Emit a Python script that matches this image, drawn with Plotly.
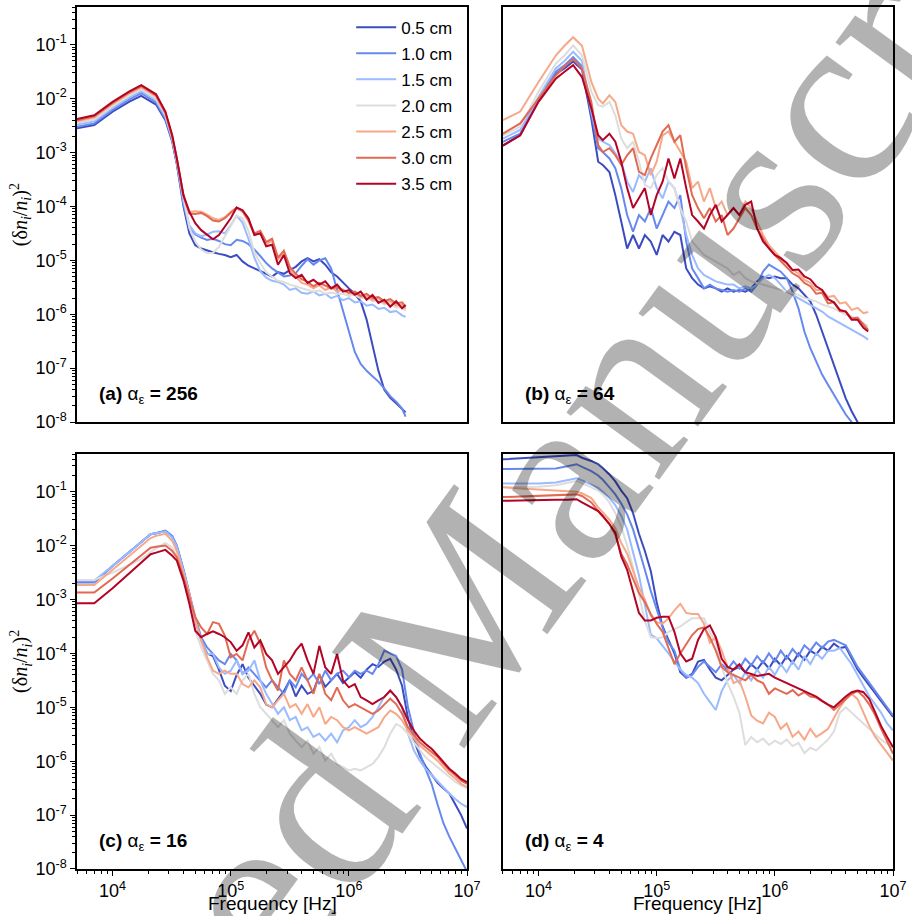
import numpy as np
import plotly.graph_objects as go

# ---------------- data ----------------
labels = ["0.5 cm", "1.0 cm", "1.5 cm", "2.0 cm", "2.5 cm", "3.0 cm", "3.5 cm"]
colors = ["#3b4cc0", "#6788ee", "#9abbff", "#dddddd", "#f7a889", "#e26952", "#b40426"]

# log10 of frequency [Hz]
logf_mid = [4.60, 4.65, 4.70, 4.75, 4.80, 4.85, 4.90, 4.95, 5.00, 5.05,
            5.10, 5.15, 5.20, 5.25, 5.30, 5.35, 5.40, 5.45, 5.50, 5.55,
            5.60, 5.65, 5.70, 5.75, 5.80, 5.85, 5.90, 5.95, 6.00, 6.05,
            6.10, 6.15, 6.20, 6.25, 6.30, 6.35, 6.40, 6.45]
logf_a = [3.699, 3.845, 4.000, 4.146, 4.243, 4.322, 4.368, 4.447, 4.505, 4.544] + logf_mid + [6.48]
logf_b = [3.699, 3.845, 4.000, 4.146, 4.220, 4.293, 4.368, 4.447, 4.505, 4.544] + logf_mid + \
         [6.50, 6.55, 6.60, 6.65, 6.70, 6.75, 6.79]
logf_cd = [3.699, 3.845, 4.000, 4.146, 4.243, 4.322, 4.368, 4.447, 4.505, 4.544] + logf_mid + \
          [6.50, 6.55, 6.60, 6.65, 6.70, 6.75, 6.80, 6.85, 6.90, 6.95, 7.00]

# log10 of (dn_i/n_i)^2 -- panel (a) alpha = 256
a05 = [-2.55, -2.49, -2.24, -2.05, -1.95, -2.05, -2.11, -2.40, -2.80, -3.22,
       -4.00, -4.50, -4.72, -4.78, -4.82, -4.85, -4.88, -4.90, -4.94, -4.90,
       -5.02, -5.10, -5.15, -5.20, -5.26, -5.30, -5.22, -5.25, -5.18, -5.12,
       -5.02, -4.96, -5.02, -4.98, -5.08, -5.22, -5.30, -5.42, -5.52, -5.62,
       -5.76, -6.10, -6.55, -7.05, -7.40, -7.55, -7.65, -7.75, -7.82]
a10 = [-2.52, -2.46, -2.21, -2.01, -1.90, -2.01, -2.07, -2.37, -2.78, -3.20,
       -3.95, -4.40, -4.52, -4.58, -4.62, -4.60, -4.64, -4.70, -4.72, -4.62,
       -4.64, -4.70, -4.80, -4.92, -5.05, -5.15, -5.22, -5.30, -5.28, -5.24,
       -5.10, -4.98, -5.08, -5.00, -4.96, -5.15, -5.55, -5.95, -6.35, -6.70,
       -6.92, -7.05, -7.15, -7.25, -7.38, -7.52, -7.62, -7.75, -7.90]
a15 = [-2.48, -2.42, -2.17, -1.97, -1.86, -1.97, -2.03, -2.33, -2.75, -3.17,
       -3.90, -4.35, -4.50, -4.55, -4.52, -4.47, -4.46, -4.50, -4.35, -4.17,
       -4.30, -4.60, -4.95, -5.20, -5.32, -5.38, -5.40, -5.45, -5.55, -5.52,
       -5.60, -5.62, -5.58, -5.65, -5.62, -5.70, -5.66, -5.74, -5.70, -5.78,
       -5.76, -5.84, -5.82, -5.90, -5.88, -5.96, -5.94, -6.02, -6.05]
a20 = [-2.45, -2.39, -2.14, -1.94, -1.83, -1.94, -2.00, -2.30, -2.72, -3.15,
       -3.85, -4.40, -4.65, -4.80, -4.87, -4.86, -4.75, -4.55, -4.35, -4.17,
       -4.22, -4.45, -4.85, -5.05, -5.22, -5.30, -5.38, -5.40, -5.45, -5.48,
       -5.52, -5.55, -5.58, -5.56, -5.62, -5.60, -5.62, -5.62, -5.66, -5.64,
       -5.70, -5.68, -5.76, -5.74, -5.82, -5.80, -5.88, -5.86, -5.94]
a25 = [-2.42, -2.35, -2.10, -1.90, -1.79, -1.90, -1.96, -2.28, -2.71, -3.13,
       -3.82, -4.10, -4.09, -4.10, -4.15, -4.22, -4.25, -4.20, -4.10, -4.03,
       -4.10, -4.28, -4.52, -4.48, -4.70, -4.64, -4.98, -4.86, -5.18, -5.30,
       -5.42, -5.45, -5.52, -5.46, -5.55, -5.50, -5.58, -5.54, -5.62, -5.60,
       -5.68, -5.65, -5.74, -5.70, -5.80, -5.76, -5.84, -5.82, -5.90]
a30 = [-2.40, -2.33, -2.08, -1.88, -1.77, -1.88, -1.94, -2.26, -2.70, -3.12,
       -3.80, -4.13, -4.14, -4.12, -4.18, -4.26, -4.28, -4.22, -4.12, -4.02,
       -4.08, -4.25, -4.50, -4.45, -4.66, -4.60, -4.95, -4.82, -5.12, -5.25,
       -5.35, -5.40, -5.48, -5.42, -5.47, -5.52, -5.50, -5.56, -5.60, -5.58,
       -5.66, -5.62, -5.70, -5.68, -5.76, -5.72, -5.80, -5.78, -5.86]
a35 = [-2.38, -2.31, -2.06, -1.86, -1.75, -1.86, -1.92, -2.24, -2.68, -3.11,
       -3.79, -4.10, -4.31, -4.44, -4.53, -4.61, -4.53, -4.37, -4.22, -4.02,
       -4.07, -4.22, -4.53, -4.50, -4.74, -4.71, -5.08, -4.90, -5.24, -5.33,
       -5.27, -5.42, -5.36, -5.45, -5.39, -5.52, -5.45, -5.58, -5.55, -5.64,
       -5.58, -5.73, -5.64, -5.79, -5.73, -5.86, -5.76, -5.89, -5.83]

# panel (b) alpha = 64
b05 = [-2.87, -2.68, -2.03, -1.54, -1.44, -1.31, -1.46, -2.37, -3.17, -3.23,
       -3.36, -3.79, -4.28, -4.78, -4.53, -4.78, -4.53, -4.65, -4.90, -4.53,
       -4.65, -4.47, -4.53, -5.15, -5.33, -5.45, -5.52, -5.48, -5.52, -5.58,
       -5.52, -5.58, -5.55, -5.58, -5.52, -5.39, -5.30, -5.33, -5.30, -5.33,
       -5.33, -5.45, -5.52, -5.64, -5.76, -6.01, -6.32, -6.63, -6.94, -7.25,
       -7.56, -7.80, -8.00, -8.20, -8.30]
b10 = [-2.80, -2.65, -2.00, -1.50, -1.38, -1.23, -1.40, -2.31, -2.92, -2.99,
       -3.11, -3.29, -3.66, -4.16, -4.47, -4.16, -4.28, -4.03, -4.41, -4.16,
       -3.91, -4.03, -3.79, -4.65, -5.15, -5.33, -5.52, -5.45, -5.52, -5.55,
       -5.58, -5.55, -5.58, -5.52, -5.58, -5.45, -5.21, -5.08, -5.15, -5.21,
       -5.33, -5.58, -5.89, -6.32, -6.63, -6.87, -7.12, -7.31, -7.49, -7.68,
       -7.86, -8.00, -8.15, -8.30, -8.40]
b15 = [-2.74, -2.58, -1.97, -1.44, -1.30, -1.13, -1.30, -2.24, -2.74, -2.80,
       -2.86, -3.02, -3.17, -3.54, -3.73, -3.42, -3.54, -3.29, -3.66, -3.85,
       -3.54, -3.66, -4.03, -4.53, -4.90, -5.15, -5.27, -5.33, -5.39, -5.42,
       -5.45, -5.45, -5.52, -5.48, -5.52, -5.45, -5.33, -5.27, -5.33, -5.45,
       -5.58, -5.64, -5.70, -5.76, -5.82, -5.89, -5.95, -6.04, -6.10, -6.16,
       -6.23, -6.29, -6.35, -6.41, -6.47]
b20 = [-2.68, -2.52, -1.87, -1.35, -1.20, -1.01, -1.20, -1.87, -2.12, -2.15,
       -2.06, -2.31, -2.74, -2.92, -2.80, -3.17, -3.60, -3.66, -3.42, -3.29,
       -3.54, -3.66, -4.03, -4.28, -4.65, -4.78, -4.90, -4.96, -5.02, -5.08,
       -5.15, -5.27, -5.21, -5.33, -5.39, -5.42, -5.45, -5.48, -5.52, -5.55,
       -5.58, -5.61, -5.64, -5.70, -5.73, -5.76, -5.82, -5.86, -5.89, -5.95,
       -6.01, -6.04, -6.10, -6.16, -6.23]
b25 = [-2.40, -2.24, -1.69, -1.20, -1.02, -0.86, -1.02, -1.69, -2.00, -2.09,
       -1.94, -2.06, -2.49, -2.61, -2.65, -2.99, -3.05, -3.42, -3.17, -2.68,
       -2.61, -2.80, -2.99, -3.17, -3.66, -3.54, -3.91, -3.66, -4.03, -3.91,
       -4.16, -4.03, -4.16, -3.91, -4.03, -4.28, -4.53, -4.72, -4.84, -4.96,
       -5.05, -5.18, -5.24, -5.36, -5.42, -5.55, -5.55, -5.68, -5.66, -5.80,
       -5.78, -5.92, -5.88, -5.98, -5.96]
b30 = [-2.65, -2.46, -2.00, -1.57, -1.40, -1.27, -1.44, -2.06, -2.86, -2.99,
       -2.92, -3.05, -3.23, -3.05, -2.92, -3.36, -3.42, -3.11, -2.86, -2.61,
       -2.49, -2.80, -2.68, -3.29, -3.79, -4.03, -4.22, -4.03, -4.28, -4.16,
       -4.53, -4.41, -4.22, -4.03, -4.16, -4.41, -4.59, -4.78, -4.90, -5.02,
       -5.12, -5.24, -5.30, -5.42, -5.48, -5.62, -5.60, -5.80, -5.78, -5.94,
       -5.95, -6.08, -6.06, -6.20, -6.29]
b35 = [-2.87, -2.68, -2.06, -1.63, -1.50, -1.38, -1.60, -2.18, -2.68, -2.77,
       -2.65, -2.80, -3.17, -3.66, -4.03, -3.85, -3.66, -4.16, -3.79, -3.54,
       -3.11, -3.48, -3.11, -3.66, -4.16, -4.28, -4.41, -4.16, -3.97, -4.28,
       -4.16, -4.03, -4.16, -3.97, -3.91, -4.41, -4.65, -4.78, -4.90, -4.96,
       -5.05, -5.18, -5.17, -5.30, -5.35, -5.48, -5.55, -5.72, -5.78, -5.92,
       -5.95, -6.10, -6.10, -6.25, -6.32]

# panel (c) alpha = 16
c05 = [-2.68, -2.68, -2.38, -2.11, -1.94, -1.79, -1.77, -1.73, -1.84, -2.02,
       -2.46, -2.90, -3.40, -3.75, -4.00, -4.05, -4.30, -4.60, -4.70, -4.40,
       -4.20, -4.45, -4.60, -4.75, -4.95, -5.00, -4.85, -4.70, -4.50, -4.80,
       -4.60, -4.75, -4.70, -4.40, -4.62, -4.50, -4.38, -4.55, -4.45, -4.35,
       -4.45, -4.30, -4.20, -4.25, -4.15, -4.10, -4.30, -4.60, -5.20, -5.60,
       -5.90, -6.10, -6.25, -6.40, -6.50, -6.60, -6.80, -7.00, -7.25]
c10 = [-2.68, -2.68, -2.38, -2.11, -1.94, -1.79, -1.77, -1.72, -1.82, -2.00,
       -2.44, -2.87, -3.33, -3.70, -3.89, -4.01, -4.13, -4.20, -4.01, -4.13,
       -4.38, -4.26, -4.38, -4.50, -4.63, -4.50, -4.63, -4.75, -4.50, -4.63,
       -4.38, -4.50, -4.38, -4.57, -4.32, -4.50, -4.38, -4.32, -4.44, -4.32,
       -4.38, -4.32, -4.38, -4.20, -3.95, -4.00, -4.05, -4.30, -5.00, -5.45,
       -5.85, -6.15, -6.42, -6.80, -7.15, -7.40, -7.62, -7.85, -8.05]
c15 = [-2.65, -2.65, -2.38, -2.11, -1.94, -1.79, -1.77, -1.74, -1.85, -2.03,
       -2.47, -2.90, -3.39, -3.76, -4.01, -4.01, -4.26, -4.38, -4.32, -4.13,
       -4.38, -4.32, -4.13, -4.50, -4.75, -4.94, -5.12, -5.00, -5.24, -5.18,
       -5.43, -5.37, -5.55, -5.49, -5.62, -5.49, -5.65, -5.43, -5.37, -5.24,
       -5.37, -5.31, -5.18, -5.00, -4.80, -4.70, -4.81, -5.00, -5.49, -5.80,
       -5.99, -6.14, -6.26, -6.36, -6.48, -6.60, -6.70, -6.79, -6.85]
c20 = [-2.64, -2.64, -2.50, -2.35, -2.25, -2.12, -2.05, -1.95, -2.04, -2.19,
       -2.59, -3.02, -3.58, -3.89, -4.13, -4.38, -4.50, -4.75, -4.63, -4.75,
       -4.50, -4.38, -4.75, -5.00, -5.12, -5.24, -5.37, -5.24, -5.49, -5.62,
       -5.74, -5.62, -5.86, -5.74, -5.99, -5.86, -6.05, -6.11, -6.17, -6.14,
       -6.17, -6.11, -6.05, -5.92, -5.74, -5.49, -5.31, -5.37, -5.49, -5.65,
       -5.80, -5.93, -6.02, -6.11, -6.20, -6.29, -6.38, -6.45, -6.50]
c25 = [-2.73, -2.73, -2.45, -2.18, -2.01, -1.86, -1.82, -1.78, -1.91, -2.10,
       -2.53, -2.90, -3.39, -3.76, -4.07, -4.32, -4.38, -4.32, -4.38, -4.38,
       -4.57, -4.63, -4.50, -4.63, -4.94, -5.00, -4.87, -4.75, -5.00, -4.94,
       -5.12, -4.94, -5.18, -5.00, -5.31, -5.18, -5.24, -5.37, -5.43, -5.37,
       -5.43, -5.49, -5.43, -5.37, -5.18, -5.06, -5.12, -5.24, -5.43, -5.58,
       -5.71, -5.80, -5.89, -5.99, -6.11, -6.23, -6.32, -6.42, -6.48]
c30 = [-2.87, -2.87, -2.61, -2.35, -2.18, -2.04, -2.02, -2.00, -2.10, -2.22,
       -2.59, -2.96, -3.33, -3.52, -3.64, -3.42, -3.45, -3.67, -4.07, -4.01,
       -4.13, -3.76, -3.58, -3.82, -4.26, -4.50, -4.69, -4.13, -4.38, -4.50,
       -4.26, -4.50, -4.75, -4.38, -4.75, -4.87, -4.63, -4.87, -5.00, -4.94,
       -5.00, -5.06, -5.12, -5.06, -4.94, -4.84, -4.94, -5.12, -5.37, -5.52,
       -5.65, -5.74, -5.83, -5.92, -6.05, -6.17, -6.26, -6.36, -6.42]
c35 = [-3.07, -3.07, -2.79, -2.50, -2.32, -2.16, -2.13, -2.08, -2.19, -2.28,
       -2.65, -3.08, -3.58, -3.70, -3.64, -3.59, -3.64, -3.70, -3.79, -3.95,
       -3.85, -3.61, -3.89, -3.76, -4.01, -4.13, -4.38, -4.26, -4.13, -3.95,
       -3.82, -4.13, -4.38, -3.86, -4.26, -4.38, -4.01, -4.50, -4.63, -4.57,
       -4.81, -4.87, -4.94, -4.87, -4.81, -4.69, -4.81, -5.00, -5.24, -5.43,
       -5.58, -5.68, -5.77, -5.89, -6.02, -6.14, -6.23, -6.33, -6.39]

# panel (d) alpha = 4
d05 = [-0.40, -0.38, -0.36, -0.34, -0.33, -0.32, -0.37, -0.43, -0.49, -0.56,
       -0.68, -0.81, -0.98, -1.12, -1.40, -1.78, -2.10, -2.47, -3.05, -3.50,
       -3.75, -4.00, -4.35, -4.45, -4.38, -4.15, -4.12, -4.30, -4.45, -4.50,
       -4.40, -4.30, -4.25, -4.35, -4.20, -4.30, -4.15, -4.28, -4.10, -4.22,
       -4.05, -4.18, -4.00, -4.12, -3.95, -4.02, -3.88, -3.95, -3.82, -3.90,
       -3.88, -4.10, -4.30, -4.45, -4.60, -4.75, -4.90, -5.05, -5.18]
d10 = [-0.58, -0.58, -0.58, -0.57, -0.53, -0.49, -0.54, -0.62, -0.70, -0.78,
       -0.92, -1.05, -1.22, -1.42, -1.70, -2.10, -2.45, -2.84, -3.20, -3.52,
       -3.80, -3.95, -4.30, -4.45, -4.40, -4.25, -4.15, -4.25, -4.35, -4.20,
       -4.30, -4.15, -4.28, -4.10, -4.22, -4.05, -4.18, -4.00, -4.15, -3.95,
       -4.10, -3.92, -4.05, -3.85, -3.95, -3.80, -3.90, -3.78, -3.75, -3.80,
       -3.85, -4.05, -4.25, -4.40, -4.55, -4.70, -4.85, -5.00, -5.15]
d15 = [-0.85, -0.85, -0.85, -0.83, -0.79, -0.75, -0.79, -0.87, -0.93, -1.00,
       -1.12, -1.25, -1.45, -1.70, -2.10, -2.55, -3.10, -3.65, -3.72, -3.85,
       -4.00, -4.15, -4.30, -4.40, -4.45, -4.55, -4.75, -4.90, -5.05, -4.70,
       -4.50, -4.40, -4.55, -4.35, -4.50, -4.30, -4.45, -4.25, -4.40, -4.20,
       -4.35, -4.15, -4.30, -4.05, -4.20, -4.00, -4.10, -3.95, -3.95, -3.90,
       -4.05, -4.20, -4.40, -4.60, -4.80, -4.95, -5.10, -5.30, -5.43]
d20 = [-0.92, -0.92, -0.91, -0.88, -0.84, -0.80, -0.84, -0.92, -0.98, -1.05,
       -1.20, -1.40, -1.65, -2.00, -2.40, -2.90, -3.40, -3.70, -3.72, -3.70,
       -3.60, -3.55, -3.50, -3.42, -3.35, -3.35, -3.35, -3.60, -3.80, -4.25,
       -4.55, -4.80, -5.10, -5.70, -5.55, -5.65, -5.58, -5.70, -5.62, -5.68,
       -5.60, -5.72, -5.66, -5.85, -5.75, -5.80, -5.70, -5.60, -5.45, -5.10,
       -5.00, -5.10, -5.20, -5.30, -5.40, -5.50, -5.60, -5.68, -5.75]
d25 = [-0.92, -0.94, -0.96, -0.98, -0.99, -1.00, -1.03, -1.12, -1.29, -1.38,
       -1.52, -1.68, -1.95, -2.15, -2.45, -2.78, -3.00, -3.30, -3.42, -3.45,
       -3.35, -3.20, -3.08, -3.25, -3.27, -3.27, -3.45, -3.80, -3.70, -3.95,
       -4.25, -4.55, -4.50, -4.80, -5.15, -5.25, -5.30, -5.10, -5.18, -5.40,
       -5.30, -5.55, -5.45, -5.60, -5.40, -5.55, -5.48, -5.40, -5.20, -5.00,
       -4.85, -4.75, -4.85, -5.10, -5.35, -5.55, -5.70, -5.85, -5.99]
d30 = [-1.10, -1.09, -1.08, -1.06, -1.06, -1.05, -1.08, -1.20, -1.36, -1.46,
       -1.60, -1.80, -2.15, -2.35, -2.62, -2.88, -3.05, -3.27, -3.45, -3.60,
       -3.90, -4.20, -4.00, -3.82, -3.66, -3.55, -3.52, -3.70, -3.95, -4.25,
       -4.35, -4.40, -4.45, -4.50, -4.40, -4.50, -4.55, -4.75, -4.65, -4.70,
       -4.75, -4.68, -4.78, -4.72, -4.80, -4.82, -4.88, -4.95, -5.05, -4.95,
       -4.85, -4.75, -4.70, -4.80, -4.95, -5.15, -5.40, -5.62, -5.86]
d35 = [-1.17, -1.16, -1.16, -1.15, -1.15, -1.14, -1.20, -1.29, -1.36, -1.45,
       -1.60, -1.76, -2.20, -2.45, -2.85, -3.25, -3.39, -3.39, -3.34, -3.32,
       -3.32, -3.60, -4.00, -4.15, -4.10, -3.75, -3.55, -3.48, -3.70, -4.10,
       -4.25, -4.30, -4.20, -4.35, -4.38, -4.42, -4.40, -4.38, -4.45, -4.50,
       -4.55, -4.60, -4.65, -4.70, -4.75, -4.80, -4.88, -4.95, -5.00, -4.90,
       -4.80, -4.72, -4.69, -4.72, -4.85, -5.10, -5.35, -5.55, -5.74]

panel_titles = ["(a)", "(b)", "(c)", "(d)"]
panel_alpha = ["256", "64", "16", "4"]
y_ticks = [1e-8, 1e-7, 1e-6, 1e-5, 1e-4, 1e-3, 1e-2, 1e-1]
y_ticktext = ["10<sup>-8</sup>", "10<sup>-7</sup>", "10<sup>-6</sup>", "10<sup>-5</sup>",
              "10<sup>-4</sup>", "10<sup>-3</sup>", "10<sup>-2</sup>", "10<sup>-1</sup>"]
x_ticks = [1e4, 1e5, 1e6, 1e7]
x_ticktext = ["10<sup>4</sup>", "10<sup>5</sup>", "10<sup>6</sup>", "10<sup>7</sup>"]

# ---------------- figure ----------------
FONT = "Liberation Sans, Arial, Helvetica, sans-serif"
panels = [
    ("x", "y", logf_a, [a05, a10, a15, a20, a25, a30, a35]),
    ("x2", "y2", logf_b, [b05, b10, b15, b20, b25, b30, b35]),
    ("x3", "y3", logf_cd, [c05, c10, c15, c20, c25, c30, c35]),
    ("x4", "y4", logf_cd, [d05, d10, d15, d20, d25, d30, d35]),
]

fig = go.Figure()
for p, (xa, ya, lf, series) in enumerate(panels):
    f = 10 ** np.array(lf)
    for i, s in enumerate(series):
        assert len(s) == len(lf), (p, i, len(s), len(lf))
        fig.add_trace(go.Scatter(
            x=f, y=10 ** np.array(s), mode="lines",
            line=dict(color=colors[i], width=2),
            name=labels[i], legendgroup=labels[i], showlegend=(p == 0),
            xaxis=xa, yaxis=ya, hoverinfo="skip"))

minor_y = [m * 10.0 ** e for e in range(-8, 0) for m in range(2, 10)]
minor_x = [m * 10.0 ** e for e in range(3, 7) for m in range(2, 10)]

xdom_l, xdom_r = [0.0, 0.478], [0.522, 1.0]
ydom_t, ydom_b = [0.5185, 1.0], [0.0, 0.4815]
xrange_ = [np.log10(5000), 7]
yrange_ = [-8, -0.3]

def xax(domain, anchor, labels_on):
    d = dict(type="log", range=xrange_, domain=domain, anchor=anchor,
             showline=True, mirror=True, linecolor="black", linewidth=1.5,
             showgrid=False, zeroline=False)
    if labels_on:
        d.update(ticks="outside", ticklen=5, tickwidth=1.2, tickcolor="black",
                 tickvals=x_ticks, ticktext=x_ticktext,
                 tickfont=dict(family=FONT, size=18, color="black"),
                 minor=dict(ticks="outside", ticklen=3, tickwidth=1, tickcolor="black",
                            tickvals=minor_x, showgrid=False))
    else:
        d.update(ticks="", showticklabels=False)
    return d

def yax(domain, anchor, labels_on):
    d = dict(type="log", range=yrange_, domain=domain, anchor=anchor,
             showline=True, mirror=True, linecolor="black", linewidth=1.5,
             showgrid=False, zeroline=False)
    if labels_on:
        d.update(ticks="outside", ticklen=5, tickwidth=1.2, tickcolor="black",
                 tickvals=y_ticks, ticktext=y_ticktext,
                 tickfont=dict(family=FONT, size=18, color="black"),
                 minor=dict(ticks="outside", ticklen=3, tickwidth=1, tickcolor="black",
                            tickvals=minor_y, showgrid=False))
    else:
        d.update(ticks="", showticklabels=False)
    return d

annotations = []
refs = [("x", "y"), ("x2", "y2"), ("x3", "y3"), ("x4", "y4")]
for k, (xr, yr) in enumerate(refs):
    annotations.append(dict(
        text="<b>%s</b> α<sub>ε</sub> <b>= %s</b>" % (panel_titles[k], panel_alpha[k]),
        xref=xr + " domain", yref=yr + " domain", x=0.051, y=0.066,
        xanchor="left", yanchor="middle", showarrow=False,
        font=dict(family=FONT, size=19, color="black")))

ytitle = "(δ<i>n</i><sub><i>i</i></sub>/<i>n</i><sub><i>i</i></sub>)<sup>2</sup>"
for yc in [0.759, 0.2407]:
    annotations.append(dict(text=ytitle, xref="paper", yref="paper", x=-0.0693, y=yc,
                            textangle=-90, showarrow=False, xanchor="center", yanchor="middle",
                            font=dict(family="Liberation Serif, Times New Roman, serif",
                                      size=20, color="black")))
for xc in [0.239, 0.761]:
    annotations.append(dict(text="Frequency [Hz]", xref="paper", yref="paper", x=xc, y=-0.040,
                            showarrow=False, xanchor="center", yanchor="middle",
                            font=dict(family=FONT, size=19, color="black")))

# watermark
annotations.append(dict(text="Accepted Manuscript", xref="paper", yref="paper",
                        x=0.4326, y=0.2525, xanchor="center", yanchor="middle",
                        textangle=-54, showarrow=False,
                        font=dict(family="Liberation Serif, Times New Roman, serif",
                                  size=250, color="rgba(0,0,0,0.3)")))

fig.update_layout(
    width=912, height=916,
    margin=dict(l=77, r=13, t=5, b=47),
    paper_bgcolor="white", plot_bgcolor="white",
    font=dict(family=FONT, size=17, color="black"),
    xaxis=xax(xdom_l, "y", False), yaxis=yax(ydom_t, "x", True),
    xaxis2=xax(xdom_r, "y2", False), yaxis2=yax(ydom_t, "x2", False),
    xaxis3=xax(xdom_l, "y3", True), yaxis3=yax(ydom_b, "x3", True),
    xaxis4=xax(xdom_r, "y4", True), yaxis4=yax(ydom_b, "x4", False),
    legend=dict(x=0.336, y=0.997, xanchor="left", yanchor="top",
                bgcolor="rgba(0,0,0,0)", font=dict(family=FONT, size=17, color="black"),
                tracegroupgap=1, itemwidth=40),
    annotations=annotations,
    showlegend=True,
)

fig.write_html("out.html")
